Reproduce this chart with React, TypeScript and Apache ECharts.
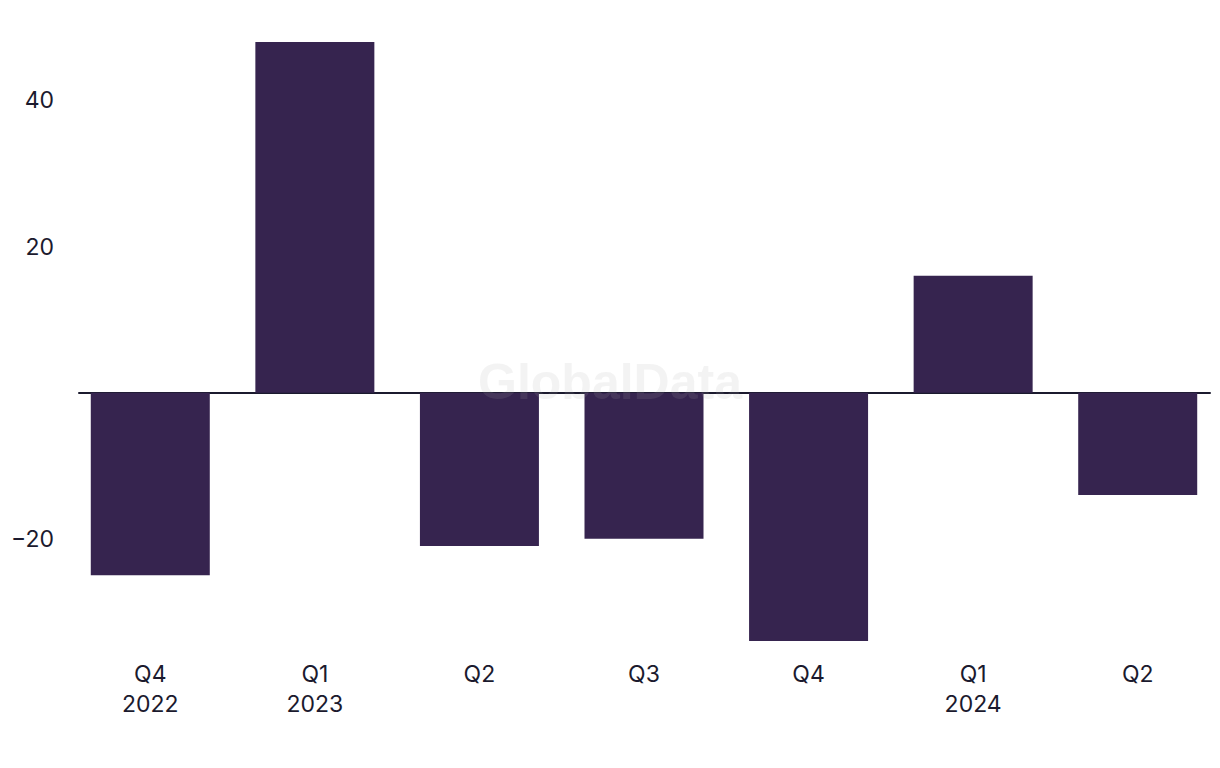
import React, { useEffect, useRef } from "react";
import * as echarts from "echarts";

const categories: string[] = ["Q4\n2022", "Q1\n2023", "Q2", "Q3", "Q4", "Q1\n2024", "Q2"];
const values: number[] = [-25, 48, -21, -20, -34, 16, -14];
const yMin = -34;
const yMax = 48;
const labelTicks: number[] = [40, 20, -20];

const TEXT = "#1b1a2e";
const BAR = "#36244f";

export default function App() {
  const ref = useRef<HTMLDivElement>(null);
  useEffect(() => {
    if (!ref.current) return;
    const chart = echarts.init(ref.current, undefined, { renderer: "svg" });
    chart.setOption({
      animation: false,
      backgroundColor: "#ffffff",
      grid: [
        { left: 68, right: -4, top: 42, bottom: 127, containLabel: false },
        { left: 79, right: 10, top: 42, bottom: 127, containLabel: false },
      ],
      xAxis: [
        {
          type: "category",
          gridIndex: 0,
          data: categories,
          axisLine: { show: false, onZero: false },
          axisTick: { show: false },
          axisLabel: {
            color: TEXT,
            fontFamily: "Inter",
            fontSize: 23,
            lineHeight: 30,
            margin: 18,
            interval: 0,
          },
        },
        {
          type: "category",
          gridIndex: 1,
          data: [""],
          axisLine: { show: true, onZero: true, lineStyle: { color: TEXT, width: 2 } },
          axisTick: { show: false },
          axisLabel: { show: false },
        },
      ],
      yAxis: [
        {
          type: "value",
          gridIndex: 0,
          min: yMin,
          max: yMax,
          interval: 2,
          axisLine: { show: false },
          axisTick: { show: false },
          splitLine: { show: false },
          axisLabel: {
            color: TEXT,
            fontFamily: "Inter",
            fontSize: 23,
            margin: 14,
            showMinLabel: false,
            showMaxLabel: false,
            formatter: (v: number) =>
              labelTicks.indexOf(v) >= 0 ? String(v).replace("-", "\u2212") : "",
          },
        },
        {
          type: "value",
          gridIndex: 1,
          min: yMin,
          max: yMax,
          axisLine: { show: false },
          axisTick: { show: false },
          splitLine: { show: false },
          axisLabel: { show: false },
        },
      ],
      series: [
        {
          type: "bar",
          xAxisIndex: 0,
          yAxisIndex: 0,
          data: values,
          barWidth: 119,
          itemStyle: { color: BAR },
          z: 2,
        },
      ],
      graphic: [
        {
          type: "text",
          left: "center",
          top: 357,
          z: 100,
          style: {
            text: "GlobalData",
            fontFamily: "Liberation Sans",
            fontWeight: "bold",
            fontSize: 50,
            fill: "rgba(169,169,169,0.14)",
          },
        },
      ],
    });
    return () => chart.dispose();
  }, []);
  return (
    <div
      ref={ref}
      style={{ position: "absolute", left: 0, top: 0, width: 1220, height: 768 }}
    />
  );
}
